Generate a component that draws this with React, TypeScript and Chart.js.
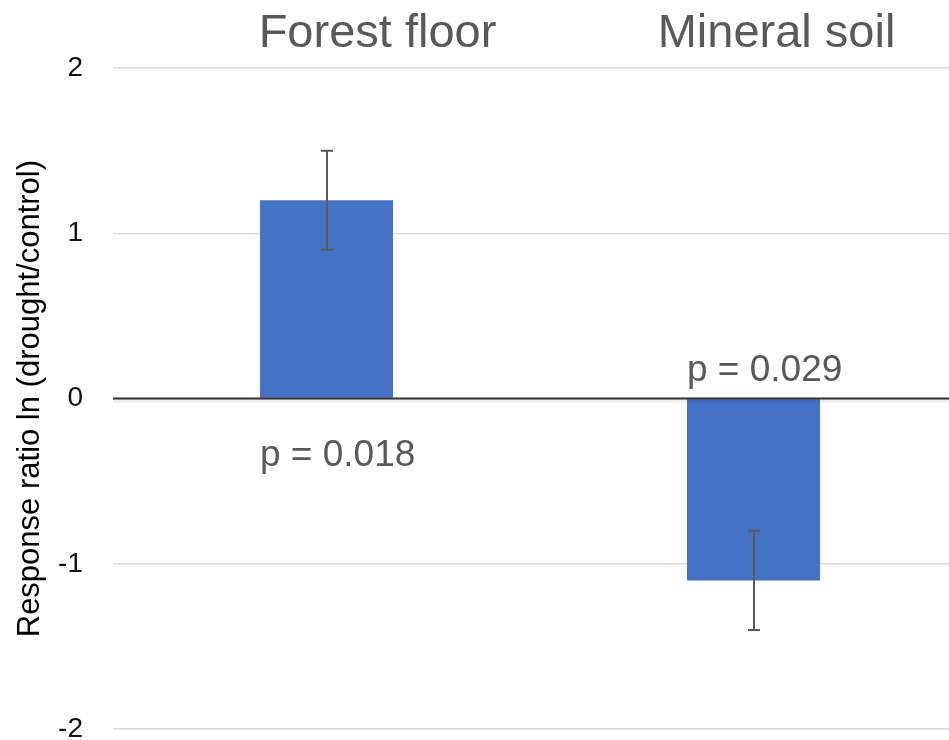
import React, { useEffect, useRef } from "react";
import { Chart, registerables } from "chart.js";

Chart.register(...registerables);

const categories = ["Forest floor", "Mineral soil"];
const values = [1.2, -1.1];
const errorLow = [0.9, -1.4];
const errorHigh = [1.5, -0.8];
const pLabels = ["p = 0.018", "p = 0.029"];
const yMin = -2;
const yMax = 2;
const yStep = 1;
const yTitle = "Response ratio ln (drought/control)";

const FONT = "'Liberation Sans', Arial, sans-serif";
const CAT_SHIFT = [51, 23];

const overlayPlugin = {
  id: "overlay",
  afterDatasetsDraw(chart: any) {
    const { ctx, chartArea, scales } = chart;
    const y = scales.y;
    const x = scales.x;
    const meta = chart.getDatasetMeta(0);
    const y0 = y.getPixelForValue(0);
    ctx.save();
    ctx.strokeStyle = "rgba(0,0,0,0.07)";
    ctx.lineWidth = 3;
    ctx.beginPath();
    ctx.moveTo(chartArea.left, y0 + 2.5);
    ctx.lineTo(chartArea.right, y0 + 2.5);
    ctx.stroke();
    ctx.strokeStyle = "#333333";
    ctx.lineWidth = 2;
    ctx.beginPath();
    ctx.moveTo(chartArea.left, y0);
    ctx.lineTo(chartArea.right, y0);
    ctx.stroke();
    ctx.strokeStyle = "#595959";
    ctx.lineWidth = 2;
    meta.data.forEach((bar: any, i: number) => {
      const cx = Math.round(bar.x);
      const yl = y.getPixelForValue(errorLow[i]);
      const yh = y.getPixelForValue(errorHigh[i]);
      ctx.beginPath();
      ctx.moveTo(cx, yl);
      ctx.lineTo(cx, yh);
      ctx.moveTo(cx - 6, yl);
      ctx.lineTo(cx + 6, yl);
      ctx.moveTo(cx - 6, yh);
      ctx.lineTo(cx + 6, yh);
      ctx.stroke();
    });
    ctx.fillStyle = "#595959";
    ctx.font = `37px ${FONT}`;
    ctx.textAlign = "left";
    ctx.textBaseline = "alphabetic";
    meta.data.forEach((bar: any, i: number) => {
      const left = bar.x - bar.width / 2;
      const by = values[i] >= 0 ? y0 + 67 : y0 - 18;
      ctx.fillText(pLabels[i], left, by);
    });
    ctx.font = `47px ${FONT}`;
    ctx.textAlign = "center";
    categories.forEach((c, i) => {
      const px = x.getPixelForValue(i) + CAT_SHIFT[i];
      ctx.fillText(c, px, chartArea.top - 21);
    });
    ctx.restore();
  },
};

export default function App() {
  const ref = useRef<HTMLCanvasElement | null>(null);
  useEffect(() => {
    if (!ref.current) return;
    const chart = new Chart(ref.current, {
      type: "bar",
      data: {
        labels: categories,
        datasets: [
          {
            data: values,
            backgroundColor: "#4472C4",
            borderWidth: 0,
            barPercentage: 0.3115,
            categoryPercentage: 1,
          },
        ],
      },
      options: {
        animation: false,
        responsive: false,
        maintainAspectRatio: false,
        layout: { padding: { top: 68, bottom: 17, left: 0, right: 0 } },
        plugins: {
          legend: { display: false },
          tooltip: { enabled: false },
        },
        scales: {
          x: { display: false },
          y: {
            min: yMin,
            max: yMax,
            afterFit: (s: any) => {
              s.width = 113;
            },
            ticks: {
              stepSize: yStep,
              padding: 30,
              color: "#111111",
              font: { family: FONT, size: 28 },
            },
            grid: {
              color: "#dcdcdc",
              lineWidth: 1.5,
              drawTicks: false,
            },
            border: { display: false },
            title: {
              display: true,
              text: yTitle,
              color: "#000",
              font: { family: FONT, size: 31 },
              padding: { top: 12, bottom: 0 },
            },
          },
        },
      },
      plugins: [overlayPlugin],
    });
    return () => chart.destroy();
  }, []);
  return (
    <div
      style={{
        position: "fixed",
        left: 0,
        top: 0,
        width: 949,
        height: 740,
        overflow: "hidden",
        background: "#fff",
      }}
    >
      <canvas ref={ref} width={967} height={776} style={{ display: "block" }} />
    </div>
  );
}
